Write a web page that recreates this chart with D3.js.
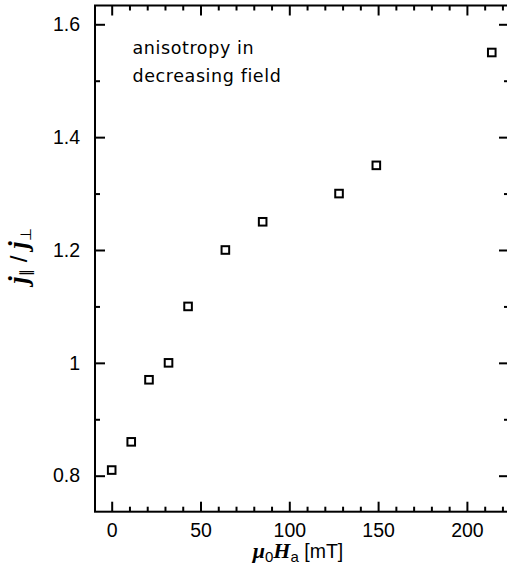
<!DOCTYPE html>
<html>
<head>
<meta charset="utf-8">
<script src="https://cdn.jsdelivr.net/npm/d3@7"></script>
<style>
  html, body { margin: 0; padding: 0; background: #fff; }
  svg { display: block; }
</style>
</head>
<body>
<svg id="chart" width="507" height="573"></svg>
<script>
// Applied field (mT) and anisotropy ratio j_par / j_perp, decreasing field
const fieldValues = [0, 11, 21, 32, 43, 64, 85, 128, 149, 214];
const ratioValues = [0.81, 0.86, 0.97, 1.0, 1.1, 1.2, 1.25, 1.3, 1.35, 1.55];

const xMajorTicks = [0, 50, 100, 150, 200];
const xTickLabels = ["0", "50", "100", "150", "200"];
const xMinorTicks = [10, 20, 30, 40, 60, 70, 80, 90, 110, 120, 130, 140, 160, 170, 180, 190, 210, 220];
const yMajorTicks = [0.8, 1.0, 1.2, 1.4, 1.6];
const yTickLabels = ["0.8", "1", "1.2", "1.4", "1.6"];
const yMinorTicks = [0.9, 1.1, 1.3, 1.5];

const annotationLines = ["anisotropy in", "decreasing field"];

const svg = d3.select("#chart");
const plotLeft = 95, plotRight = 509, plotTop = 5.5, plotBottom = 511.7;

const x = d3.scaleLinear().domain([-9.4, 223.7]).range([plotLeft, plotRight]);
const y = d3.scaleLinear().domain([0.7362, 1.6333]).range([plotBottom, plotTop]);

const tickFont = "'Liberation Sans', Arial, sans-serif";
const majorLen = 10, minorLen = 5;

function styleAxis(g) {
  g.select(".domain").remove();
  g.selectAll("line").attr("stroke", "#000").attr("stroke-width", 2);
  g.selectAll("text").attr("fill", "#000").attr("font-family", tickFont).attr("font-size", 19.5);
}

// bottom axis
svg.append("g").attr("transform", `translate(0,${plotBottom})`)
  .call(d3.axisBottom(x).tickValues(xMajorTicks).tickFormat((d, i) => xTickLabels[i])
    .tickSize(-majorLen).tickPadding(11))
  .call(styleAxis);
svg.append("g").attr("transform", `translate(0,${plotBottom})`)
  .call(d3.axisBottom(x).tickValues(xMinorTicks).tickFormat("").tickSize(-minorLen))
  .call(styleAxis);

// top axis
svg.append("g").attr("transform", `translate(0,${plotTop})`)
  .call(d3.axisTop(x).tickValues(xMajorTicks).tickFormat("").tickSize(-majorLen))
  .call(styleAxis);
svg.append("g").attr("transform", `translate(0,${plotTop})`)
  .call(d3.axisTop(x).tickValues(xMinorTicks).tickFormat("").tickSize(-minorLen))
  .call(styleAxis);

// left axis
svg.append("g").attr("transform", `translate(${plotLeft},0)`)
  .call(d3.axisLeft(y).tickValues(yMajorTicks).tickFormat((d, i) => yTickLabels[i])
    .tickSize(-majorLen).tickPadding(15))
  .call(styleAxis);
svg.append("g").attr("transform", `translate(${plotLeft},0)`)
  .call(d3.axisLeft(y).tickValues(yMinorTicks).tickFormat("").tickSize(-minorLen))
  .call(styleAxis);

// right axis
svg.append("g").attr("transform", `translate(${plotRight},0)`)
  .call(d3.axisRight(y).tickValues(yMajorTicks).tickFormat("").tickSize(-majorLen))
  .call(styleAxis);
svg.append("g").attr("transform", `translate(${plotRight},0)`)
  .call(d3.axisRight(y).tickValues(yMinorTicks).tickFormat("").tickSize(-minorLen))
  .call(styleAxis);

// frame
svg.append("rect")
  .attr("x", plotLeft).attr("y", plotTop)
  .attr("width", plotRight - plotLeft).attr("height", plotBottom - plotTop)
  .attr("fill", "none").attr("stroke", "#000").attr("stroke-width", 2);

// open square markers
const half = 3.8;
svg.append("g").selectAll("rect.pt")
  .data(fieldValues.map((f, i) => ({ f, r: ratioValues[i] })))
  .join("rect")
  .attr("class", "pt")
  .attr("x", d => x(d.f) - half)
  .attr("y", d => y(d.r) - half)
  .attr("width", half * 2).attr("height", half * 2)
  .attr("fill", "none").attr("stroke", "#000").attr("stroke-width", 2);

// annotation
svg.append("g").selectAll("text")
  .data(annotationLines)
  .join("text")
  .attr("x", 132.5)
  .attr("y", (d, i) => 53.5 + i * 28.3)
  .attr("font-family", "'DejaVu Sans', sans-serif")
  .attr("font-size", 17.5)
  .attr("letter-spacing", 0.6)
  .attr("fill", "#000")
  .text(d => d);

// x axis title: mu_0 H_a [mT]
const xt = svg.append("text")
  .attr("x", 298).attr("y", 558)
  .attr("text-anchor", "middle")
  .attr("font-family", "'Liberation Serif', serif")
  .attr("font-size", 22).attr("fill", "#000");
xt.append("tspan").attr("font-weight", "bold").attr("font-style", "italic").text("μ");
xt.append("tspan").attr("font-family", tickFont).attr("font-size", 15).attr("dy", 4).text("0");
xt.append("tspan").attr("font-weight", "bold").attr("font-style", "italic").attr("dy", -4).text("H");
xt.append("tspan").attr("font-family", tickFont).attr("font-size", 15).attr("dy", 4).text("a");
xt.append("tspan").attr("font-family", tickFont).attr("font-size", 19.5).attr("dy", -4).text(" [mT]");

// y axis title: j_par / j_perp
const yt = svg.append("text")
  .attr("transform", "translate(27,256) rotate(-90)")
  .attr("text-anchor", "middle")
  .attr("font-family", "'Liberation Serif', serif")
  .attr("font-size", 27).attr("fill", "#000");
yt.append("tspan").attr("font-weight", "bold").attr("font-style", "italic").text("j");
yt.append("tspan").attr("font-family", "'DejaVu Sans', sans-serif").attr("font-size", 15).attr("dy", 4).text("∥");
yt.append("tspan").attr("font-family", tickFont).attr("font-size", 24).attr("dy", -4).text(" / ");
yt.append("tspan").attr("font-weight", "bold").attr("font-style", "italic").text("j");
yt.append("tspan").attr("font-family", "'DejaVu Sans', sans-serif").attr("font-size", 15).attr("dy", 4).text("⊥");
</script>
</body>
</html>
